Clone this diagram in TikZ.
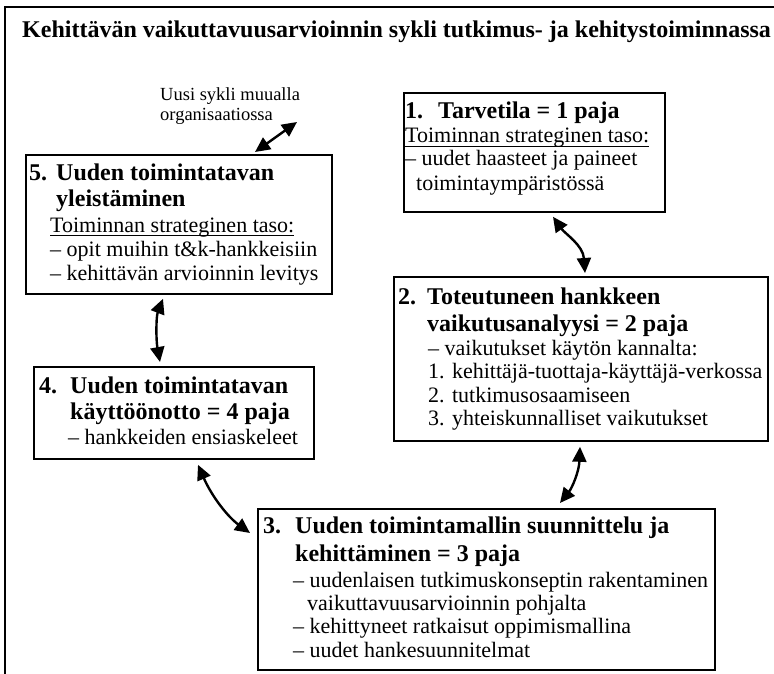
\documentclass[tikz,border=0pt]{standalone}
\usepackage{fontspec}
\setmainfont{Liberation Serif}
\usetikzlibrary{arrows.meta,calc}
\tikzset{
  box/.style={draw, line width=1.8pt, rectangle, anchor=north west, inner sep=0pt},
  hd/.style={anchor=base west, inner sep=0pt, font=\fontsize{24}{28}\selectfont\bfseries},
  bd/.style={anchor=base west, inner sep=0pt, font=\fontsize{22}{26}\selectfont},
  lab/.style={anchor=base west, inner sep=0pt, font=\fontsize{18.5}{20}\selectfont},
  dbl/.style={line width=2.4pt, {Triangle[length=15pt,width=14pt]}-{Triangle[length=15pt,width=14pt]}},
  uline/.style={line width=0.9pt}
}
\begin{document}
\begin{tikzpicture}[x=1pt,y=1pt]
\useasboundingbox (0,0) rectangle (774,-674);
% outer frame (cropped)
\draw[line width=2.2pt] (5,-674) -- (5,-7) -- (774,-7);
% title
\node[anchor=base west, inner sep=0pt, font=\fontsize{24}{28}\selectfont\bfseries] (title) at (22,-38)
  {Kehittävän vaikuttavuusarvioinnin sykli tutkimus- ja kehitystoiminnassa};

% label
\node[lab] (la) at (160,-101) {Uusi sykli muualla};
\node[lab] (lb) at (160,-121) {organisaatiossa};
\coordinate (free) at (297,-122);

% Box 1
\node[box, minimum width=261pt, minimum height=119pt] (b1) at (403,-92) {};
\node[hd] (n1) at (405,-119) {1.};
\node[hd] (h1) at (438,-119) {Tarvetila = 1 paja};
\node[bd] (s1) at (405,-143) {Toiminnan strateginen taso:};
\draw[uline] ([yshift=-3pt]s1.base west) -- ([yshift=-3pt]s1.base east);
\node[bd] (p1a) at (405,-166) {– uudet haasteet ja paineet};
\node[bd] (p1b) at (416,-190) {toimintaympäristössä};

% Box 5
\node[box, minimum width=306pt, minimum height=139pt] (b5) at (25,-154) {};
\node[hd] (n5) at (29,-180) {5.};
\node[hd] (h5a) at (56,-180) {Uuden toimintatavan};
\node[hd] (h5b) at (56,-207) {yleistäminen};
\node[bd] (s5) at (50,-232) {Toiminnan strateginen taso:};
\draw[uline] ([yshift=-3pt]s5.base west) -- ([yshift=-3pt]s5.base east);
\node[bd] (p5a) at (50,-256) {– opit muihin t\&k-hankkeisiin};
\node[bd] (p5b) at (50,-280) {– kehittävän arvioinnin levitys};

% Box 2
\node[box, minimum width=374pt, minimum height=164pt] (b2) at (393,-276) {};
\node[hd] (n2) at (398,-304) {2.};
\node[hd] (h2a) at (427,-304) {Toteutuneen hankkeen};
\node[hd] (h2b) at (427,-331) {vaikutusanalyysi = 2 paja};
\node[bd] (p2a) at (428,-355) {– vaikutukset käytön kannalta:};
\node[bd] (p2b) at (428,-378) {1. kehittäjä-tuottaja-käyttäjä-verkossa};
\node[bd] (p2c) at (428,-402) {2. tutkimusosaamiseen};
\node[bd] (p2d) at (428,-425) {3. yhteiskunnalliset vaikutukset};

% Box 4
\node[box, minimum width=280pt, minimum height=92pt] (b4) at (33,-366) {};
\node[hd] (n4) at (39,-393) {4.};
\node[hd] (h4a) at (70,-393) {Uuden toimintatavan};
\node[hd] (h4b) at (70,-419) {käyttöönotto = 4 paja};
\node[bd] (p4) at (68,-444) {– hankkeiden ensiaskeleet};

% Box 3
\node[box, minimum width=457pt, minimum height=161pt] (b3) at (257,-508) {};
\node[hd] (n3) at (263,-533) {3.};
\node[hd] (h3a) at (295,-533) {Uuden toimintamallin suunnittelu ja};
\node[hd] (h3b) at (295,-561) {kehittäminen = 3 paja};
\node[bd] (p3a) at (293,-587) {– uudenlaisen tutkimuskonseptin rakentaminen};
\node[bd] (p3b) at (307,-610) {vaikuttavuusarvioinnin pohjalta};
\node[bd] (p3c) at (293,-633) {– kehittyneet ratkaisut oppimismallina};
\node[bd] (p3d) at (293,-657) {– uudet hankesuunnitelmat};

% connectors
\draw[dbl] ($(b5.north west)+(230,2)$) -- (free);
\draw[dbl] ($(b1.south west)+(150,-4)$) .. controls ($(b1.south west)+(162,-21)$) and ($(b2.north west)+(190,31)$) .. ($(b2.north west)+(192,3)$);
\draw[dbl] ($(b5.south west)+(138,-4)$) .. controls ($(b5.south west)+(131,-22)$) and ($(b4.north west)+(123,26)$) .. ($(b4.north west)+(127,4)$);
\draw[dbl] ($(b4.south west)+(165,-5)$) .. controls ($(b4.south west)+(179,-37)$) and ($(b3.north west)+(-29,-9)$) .. ($(b3.north west)+(-7,-25)$);
\draw[dbl] ($(b2.south west)+(187,-5)$) .. controls ($(b2.south west)+(186,-30)$) and ($(b3.north west)+(315,20)$) .. ($(b3.north west)+(303,5)$);
\end{tikzpicture}
\end{document}
